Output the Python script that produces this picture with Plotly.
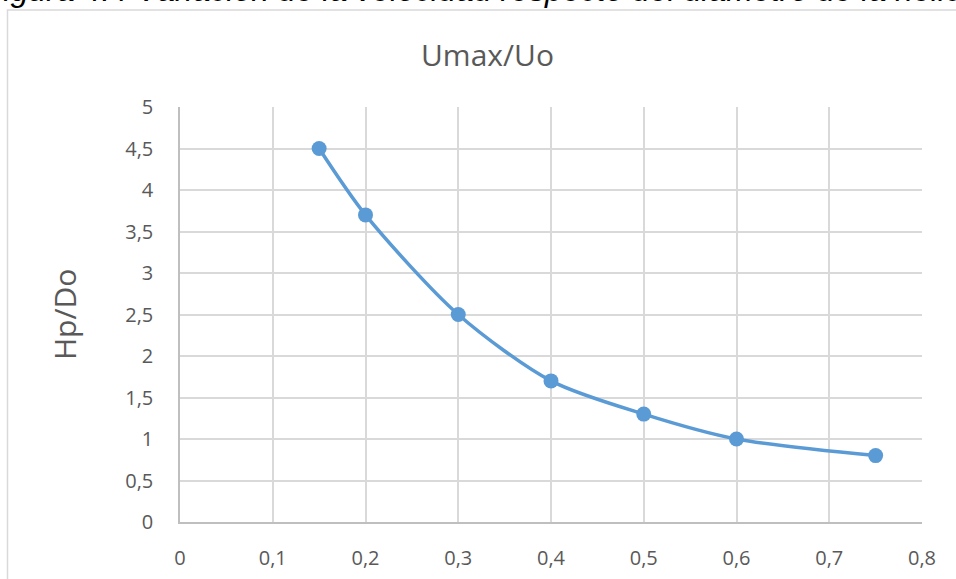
import plotly.graph_objects as go

# Relative helix diameter vs. velocity ratio
ratio_x = [0.15, 0.2, 0.3, 0.4, 0.5, 0.6, 0.75]
hp_do = [4.5, 3.7, 2.5, 1.7, 1.3, 1.0, 0.8]

chart_title = "Umax/Uo"
y_title = "Hp/Do"
caption = "Figura 4.4 Variación de la velocidad respecto del diámetro de la hélice"

W, H = 956, 579
L, R, T, B = 180, 34, 107, 57
plot_w = W - L - R
plot_h = H - T - B


def px_x(p):
    return (p - L) / plot_w


def px_y(p):
    return (H - B - p) / plot_h


txt = "#595959"
grid = "#D9D9D9"
blue = "#5B9BD5"

fig = go.Figure()
fig.add_trace(go.Scatter(
    x=ratio_x, y=hp_do, mode="lines+markers",
    line=dict(color=blue, width=3.5, shape="spline", smoothing=0.8),
    marker=dict(color=blue, size=15),
    showlegend=False,
))

fig.update_layout(
    width=W, height=H,
    margin=dict(l=L, r=R, t=T, b=B, autoexpand=False),
    paper_bgcolor="white", plot_bgcolor="white",
    separators=",.",
    font=dict(family="Open Sans", color=txt, size=20),
    xaxis=dict(
        range=[0, 0.8], dtick=0.1, showgrid=True, gridcolor=grid, gridwidth=1.5,
        zeroline=False, showline=True, linecolor="#BFBFBF", linewidth=1.5,
        ticks="", ticklabelstandoff=17, tickfont=dict(size=20, color=txt),
        automargin=False,
    ),
    yaxis=dict(
        range=[0, 5], dtick=0.5, showgrid=True, gridcolor=grid, gridwidth=1.5,
        zeroline=False, showline=True, linecolor="#BFBFBF", linewidth=1.5,
        ticks="", ticklabelstandoff=21, tickfont=dict(size=20, color=txt),
        automargin=False,
    ),
    annotations=[
        dict(text=chart_title, xref="paper", yref="paper",
             x=px_x(487), y=px_y(54), xanchor="center", yanchor="middle",
             showarrow=False, font=dict(size=30, color=txt, family="Open Sans")),
        dict(text=y_title, xref="paper", yref="paper", textangle=-90,
             x=px_x(64), y=px_y(315), xanchor="center", yanchor="middle",
             showarrow=False, font=dict(size=30, color=txt, family="Open Sans")),
        dict(text="<i>" + caption + "</i>", xref="paper", yref="paper",
             x=px_x(-18), y=px_y(10.5), xanchor="left", yanchor="bottom",
             showarrow=False,
             font=dict(size=32, color="black", family="Liberation Sans")),
    ],
    shapes=[
        dict(type="rect", xref="paper", yref="paper",
             x0=px_x(7.5), x1=px_x(1000), y0=px_y(10), y1=px_y(640),
             line=dict(color=grid, width=1.5), fillcolor="rgba(0,0,0,0)",
             layer="below"),
    ],
)

fig.write_html("out.html")
